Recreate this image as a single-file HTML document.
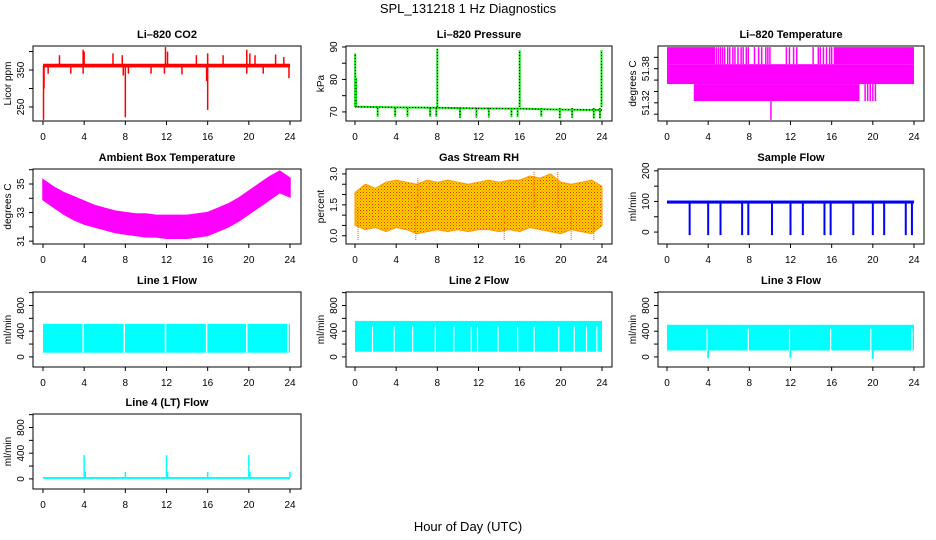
<!DOCTYPE html>
<html><head><meta charset="utf-8"><style>
body{margin:0;background:#fff;}
svg{display:block;font-family:"Liberation Sans",Arial,sans-serif;}
</style></head><body>
<svg id="c" width="936" height="540" viewBox="0 0 936 540">
<defs>
<pattern id="rhpat" width="3" height="3" patternUnits="userSpaceOnUse">
<rect width="3" height="3" fill="#ffd000"/><rect x="0" y="0" width="1" height="1" fill="#ff3000"/><rect x="1.5" y="1.5" width="1" height="1" fill="#ff6000"/>
</pattern>
</defs>
<text x="468" y="13" font-size="13" text-anchor="middle">SPL_131218  1 Hz Diagnostics</text>
<text x="468" y="531" font-size="13" text-anchor="middle">Hour of Day (UTC)</text>
</svg>
<script>
// ---- data ----
const xTicks=[0,4,8,12,16,20,24];
// CO2
const co2Base=[357,367];
const co2SpikeT=[1.6,3.9,4.0,6.8,7.7,11.9,12.1,14.9,16.0,17.5,19.8,20.1,20.6,22.6,23.4,0.5,2.7,3.9,7.8,8.3,10.5,11.8,13.5,15.9,19.8,21.4,23.9,0.05,0.1,8.0,16.0];
const co2SpikeV=[390,405,400,395,390,412,400,390,395,390,405,395,390,392,385,340,340,340,335,340,340,340,338,320,340,340,328,215,300,222,242];
const co2Ticks=[250,300,350,400];
// Pressure
const presBaseT=[0,4,8,12,16,20,24];
const presBaseV=[71.6,71.4,71.3,71.1,71.0,70.7,70.6];
const presUpT=[0.02,0.1,8.0,16.0,23.95];
const presUpV=[88,80.5,89.5,89,89];
const presDipT=[2.2,3.9,5.1,7.3,7.9,10.2,11.8,13.0,15.2,15.8,18.1,19.9,21.1,23.2,23.8];
const presDipV=[68.5,68.5,68.5,68.5,68.5,68.2,68.3,68.3,68.4,68.4,68.5,68.0,68.2,68.0,68.0];
const presTicks=[70,75,80,85,90];
// Li-820 temperature
const tmpTicks=[51.30,51.32,51.34,51.36,51.38,51.40];
const tmpLevels=[51.418,51.388,51.353,51.323,51.29];
const tmpGapLinesT=[4.6,4.8,5.0,5.2,5.4,5.6,5.9,6.1,6.4,6.6,6.9,7.2,7.4,7.7,7.9,8.5,8.9,9.2,9.6,9.8,10.0,11.6,11.9,12.3,12.6,14.2,14.7,14.9,15.2,15.5,15.8,16.0];
const tmpLowExtraT=[19.25,19.5,19.75,20.0,20.25];
// Ambient box temperature
const ambT=[0,1,2,3,4,5,6,7,8,9,10,11,12,13,14,15,16,17,18,19,20,21,22,23,24];
const ambHi=[35.3,34.8,34.4,34.1,33.8,33.5,33.3,33.1,33.0,32.9,32.9,32.8,32.8,32.8,32.8,32.9,33.0,33.3,33.6,34.0,34.5,35.0,35.5,35.9,35.4];
const ambLo=[33.9,33.4,32.9,32.5,32.2,32.0,31.8,31.6,31.5,31.4,31.3,31.3,31.2,31.2,31.2,31.3,31.4,31.7,32.0,32.4,32.9,33.4,33.9,34.4,34.1];
const ambTicks=[31,32,33,34,35,36];
// Gas stream RH
const rhT=[0,1,2,3,4,5,6,7,8,9,10,11,12,13,14,15,16,17,18,19,20,21,22,23,24];
const rhHi=[2.1,2.5,2.3,2.6,2.7,2.6,2.5,2.7,2.6,2.7,2.6,2.5,2.6,2.7,2.6,2.7,2.7,2.9,2.8,3.0,2.6,2.5,2.6,2.7,2.4];
const rhLo=[0.5,0.3,0.4,0.2,0.4,0.3,0.1,0.2,0.3,0.2,0.3,0.2,0.3,0.3,0.2,0.3,0.2,0.4,0.3,0.2,0.1,0.3,0.2,0.1,0.5];
const rhSpikeT=[0.3,5.9,6.1,14.5,17.4,19.7,21.0,23.2];
const rhSpikeV=[-0.2,-0.25,2.8,-0.2,3.1,3.1,-0.25,-0.25];
const rhTicks=[0,0.5,1,1.5,2,2.5,3];
// Sample flow
const sfBase=[93,103];
const sfDipT=[2.2,4.0,5.2,7.3,7.9,10.2,12.0,13.2,15.3,15.9,18.1,20.0,21.1,23.2,23.8];
const sfDipV=[-10,-10,-10,-10,-10,-10,-10,-10,-10,-10,-10,-10,-10,-10,-10];
const sfTicks=[0,50,100,150,200];
// Line flows
const flowTicks=[0,200,400,600,800,1000];
const l1Band=[65,515];
const l1GapT=[3.9,7.9,11.9,15.9,19.8,23.8];
const l2Band=[80,560];
const l2GapT=[1.7,3.8,5.6,7.8,9.6,11.3,11.9,13.9,15.8,17.4,19.8,21.3,22.5,23.5];
const l3Band=[100,500];
const l3GapT=[3.9,7.9,11.9,15.9,19.8,23.8];
const l3DipT=[4.0,12.0,20.0];
const l3DipV=[-20,-20,-30];
const l4Base=[0,30];
const l4SpikeT=[4.0,4.1,8.0,12.0,12.1,16.0,20.0,20.1,24.0];
const l4SpikeV=[370,110,110,370,110,110,370,110,110];

// ---- layout ----
const NS='http://www.w3.org/2000/svg';
const svg=document.getElementById('c');
const cols=[[33,301,43,290],[346,612,355,602],[658,924,667,914]];
const rows=[46,169,292,414];
const H=75;
function mk(tag,attrs,parent){const e=document.createElementNS(NS,tag);for(const k in attrs)e.setAttribute(k,attrs[k]);(parent||svg).appendChild(e);return e;}
function panel(name,title,ylab,ci,ri,ymin,ymax,ticks,labels){
  const g=mk('g',{});
  
  
  const c=cols[ci],top=rows[ri],bot=top+H;
  const P={g:g,x:t=>c[2]+(c[3]-c[2])*t/24,y:v=>bot-(v-ymin)/(ymax-ymin)*H,top:top,bot:bot,l:c[0],r:c[1]};
  const clip=mk('clipPath',{id:'cl'+name},g);mk('rect',{x:c[0],y:top,width:c[1]-c[0],height:H},clip);
  P.d=mk('g',{'clip-path':'url(#cl'+name+')'},g);
  
  
  P.finish=function(){
    const b=mk('rect',{x:c[0],y:top,width:c[1]-c[0],height:H,fill:'none',stroke:'#000','stroke-width':1},g);
    
    
    const tt=mk('text',{x:(c[0]+c[1])/2,y:top-8,'font-size':11,'font-weight':'bold','text-anchor':'middle'},g);tt.textContent=title;
    
    
    xTicks.forEach(t=>{mk('line',{x1:P.x(t),x2:P.x(t),y1:bot,y2:bot+4,stroke:'#000'},g);
      const tx=mk('text',{x:P.x(t),y:bot+19,'font-size':10,'text-anchor':'middle'},g);tx.textContent=t;
      
      });
    const ax=c[0];
    ticks.forEach((v,i)=>{const y=P.y(v);mk('line',{x1:ax-4,x2:ax,y1:y,y2:y,stroke:'#000'},g);
      if(labels[i]){const tx=mk('text',{x:ax-9,y:y,'font-size':10,'text-anchor':'middle',transform:'rotate(-90 '+(ax-9)+' '+y+')'},g);tx.textContent=labels[i];
      
      }});
    const yl=mk('text',{x:c[0]-22,y:(top+bot)/2,'font-size':10,'text-anchor':'middle',transform:'rotate(-90 '+(c[0]-22)+' '+(top+bot)/2+')'},g);yl.textContent=ylab;
    
    
  };
  return P;
}
function vline(P,t,v1,v2,col,w,dash){const a={x1:P.x(t),x2:P.x(t),y1:P.y(v1),y2:P.y(v2),stroke:col,'stroke-width':w||1.5};if(dash)a['stroke-dasharray']=dash;const e=mk('line',a,P.d);return e;}
function band(P,t0,t1,v1,v2,col){return mk('rect',{x:P.x(t0),y:P.y(v2),width:P.x(t1)-P.x(t0),height:P.y(v1)-P.y(v2),fill:col},P.d);}

// CO2
let P=panel('co2','Li\u2013820 CO2','Licor ppm',0,0,212,415,co2Ticks,['250','','350','']);
band(P,0,24,co2Base[0],co2Base[1],'#ff0000');
co2SpikeT.forEach((t,i)=>vline(P,t,362,co2SpikeV[i],'#ff0000',1.5));
P.finish();
// Pressure
P=panel('pressure','Li\u2013820 Pressure','kPa',1,0,67.2,90.3,presTicks,['70','','80','','90']);
mk('polyline',{points:presBaseT.map((t,i)=>P.x(t)+','+P.y(presBaseV[i])).join(' '),fill:'none',stroke:'#00ee00','stroke-width':2},P.d);
mk('polyline',{points:presBaseT.map((t,i)=>P.x(t)+','+P.y(presBaseV[i])).join(' '),fill:'none',stroke:'#000','stroke-width':1,'stroke-dasharray':'1,2'},P.d);
presUpT.forEach((t,i)=>{vline(P,t,71.5,presUpV[i],'#00ee00',2);vline(P,t,71.5,presUpV[i],'#000',1,'1,2');});
presDipT.forEach((t,i)=>{vline(P,t,71.2,presDipV[i],'#00ee00',2);vline(P,t,71.2,presDipV[i],'#000',1,'1,2');});
P.finish();
// Li-820 temperature
P=panel('li820-temp','Li\u2013820 Temperature','degrees C',2,0,51.288,51.42,tmpTicks,['','51.32','','','51.38','']);
const M='#ff00ff';
band(P,0,24,tmpLevels[2],tmpLevels[1],M);
band(P,0,4.6,tmpLevels[1],tmpLevels[0],M);
band(P,16.2,24,tmpLevels[1],tmpLevels[0],M);
tmpGapLinesT.forEach(t=>vline(P,t,tmpLevels[1],tmpLevels[0],M,1.5));
band(P,2.6,18.7,tmpLevels[3],tmpLevels[2],M);
tmpLowExtraT.forEach(t=>vline(P,t,tmpLevels[3],tmpLevels[2],M,1.5));
vline(P,10.1,tmpLevels[4],tmpLevels[3],M,1.5);
P.finish();
// Ambient
P=panel('ambient-temp','Ambient Box Temperature','degrees C',0,1,30.8,36.05,ambTicks,['31','','33','','35','']);
mk('polygon',{points:ambT.map((t,i)=>P.x(t)+','+P.y(ambHi[i])).concat(ambT.slice().reverse().map((t,j)=>P.x(t)+','+P.y(ambLo[ambT.length-1-j]))).join(' '),fill:M,stroke:M,'stroke-width':1.5},P.d);
P.finish();
// RH
P=panel('gas-rh','Gas Stream RH','percent',1,1,-0.4,3.24,rhTicks,['0.0','','','1.5','','','3.0']);
mk('polygon',{points:rhT.map((t,i)=>P.x(t)+','+P.y(rhHi[i])).concat(rhT.slice().reverse().map((t,j)=>P.x(t)+','+P.y(rhLo[rhT.length-1-j]))).join(' '),fill:'url(#rhpat)',stroke:'#ff9900','stroke-width':1},P.d);
rhSpikeT.forEach((t,i)=>vline(P,t,1.4,rhSpikeV[i],'#ff6a00',1.2,'1,1'));
P.finish();
// Sample flow
P=panel('sample-flow','Sample Flow','ml/min',2,1,-39,206,sfTicks,['0','','100','','200']);
band(P,0,24,sfBase[0],sfBase[1],'#0000ff');
sfDipT.forEach((t,i)=>vline(P,t,95,sfDipV[i],'#0000ff',2));
P.finish();
// Line flows
const C='#00ffff';
const fl=['0','','400','','800',''];
P=panel('line1-flow','Line 1 Flow','ml/min',0,2,-157,1010,flowTicks,fl);
band(P,0,24,l1Band[0],l1Band[1],C);
l1GapT.forEach(t=>vline(P,t,l1Band[0],l1Band[1],'#fff',1.5));
P.finish();
P=panel('line2-flow','Line 2 Flow','ml/min',1,2,-157,1010,flowTicks,fl);
band(P,0,24,l2Band[0],l2Band[1],C);
l2GapT.forEach(t=>vline(P,t,l2Band[0],l2Band[1]-90,'#fff',1.2));
P.finish();
P=panel('line3-flow','Line 3 Flow','ml/min',2,2,-157,1010,flowTicks,fl);
band(P,0,24,l3Band[0],l3Band[1],C);
l3GapT.forEach(t=>vline(P,t,l3Band[0],l3Band[1]-60,'#fff',1.2));
l3DipT.forEach((t,i)=>vline(P,t,l3Band[0],l3DipV[i],C,2));
P.finish();
P=panel('line4-flow','Line 4 (LT) Flow','ml/min',0,3,-157,1010,flowTicks,fl);
band(P,0,24,l4Base[0],l4Base[1],C);
l4SpikeT.forEach((t,i)=>vline(P,t,15,l4SpikeV[i],C,1.5));
P.finish();
</script>
</body></html>
